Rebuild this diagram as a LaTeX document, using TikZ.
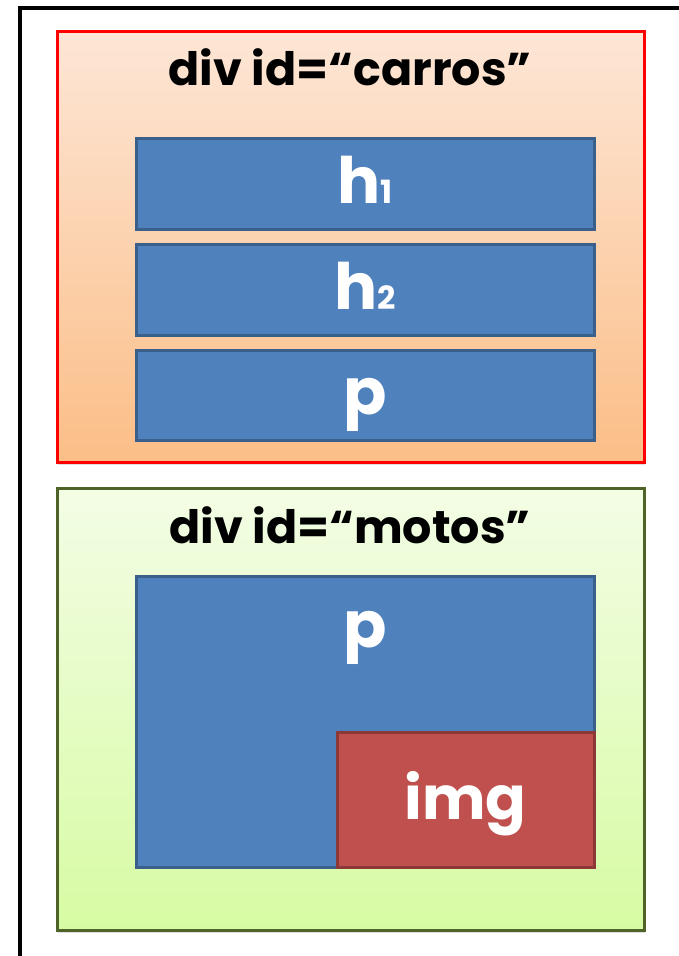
\documentclass[tikz,border=0pt]{standalone}
\usepackage{fontspec}
\newfontfamily\tagfont{Poppins}
\usetikzlibrary{shadows,positioning}

\definecolor{tagblue}{HTML}{4F81BD}
\definecolor{tagblueline}{HTML}{3A5F8B}
\definecolor{imgred}{HTML}{C0504D}
\definecolor{imgredline}{HTML}{8C3836}
\definecolor{carrostop}{HTML}{FDE6D6}
\definecolor{carrosbottom}{HTML}{FBBE87}
\definecolor{motostop}{HTML}{F3FDE5}
\definecolor{motosbottom}{HTML}{D7FBA3}
\definecolor{motosline}{HTML}{4F6228}

\tikzset{
	divbox/.style={line width=3pt, inner sep=0pt, minimum width=587pt,
		drop shadow={opacity=0.25, shadow xshift=1pt, shadow yshift=-2.5pt}},
	divtitle/.style={anchor=base, inner sep=0pt, font=\tagfont\bfseries\fontsize{46}{46}\selectfont},
	tagbox/.style={draw=tagblueline, fill=tagblue, line width=3pt, inner sep=0pt,
		minimum width=458pt, text=white, text height=52pt, text depth=14pt,
		font=\tagfont\bfseries\fontsize{64}{64}\selectfont},
	tagtext/.style={inner sep=0pt, text=white, font=\tagfont\bfseries\fontsize{64}{64}\selectfont},
}
\newcommand{\tagnum}[1]{{\fontsize{32}{32}\selectfont #1}}

\begin{document}
\begin{tikzpicture}[x=1pt, y=-1pt]
	\useasboundingbox (0,0) rectangle (679,956);
	% page frame, cut off at right and bottom
	\draw[line width=4pt] (19.5,956) -- (19.5,7.5) -- (679,7.5);

	% div carros
	\node[divbox, draw=red, top color=carrostop, bottom color=carrosbottom, minimum height=431pt] (carros) at (350.5,247) {};
	\node[divtitle] (carrostitle) at (350,85) {div id=“carros”};
	\node[tagbox, minimum height=91pt] (h1) at (365,184) {h\tagnum{1}};
	\node[tagbox, minimum height=91pt, below=12pt of h1] (h2) {h\tagnum{2}};
	\node[tagbox, minimum height=90pt, below=12pt of h2] (pc) {p};

	% div motos
	\node[divbox, draw=motosline, top color=motostop, bottom color=motosbottom, minimum height=442pt] (motos) at (350.5,709.5) {};
	\node[divtitle] (motostitle) at (350,543) {div id=“motos”};
	\node[tagbox, minimum height=291pt] (pm) at (365,722) {};
	\node[tagtext, anchor=base] (pmtext) at (365,647) {p};
	\node[tagbox, draw=imgredline, fill=imgred, minimum width=257pt, minimum height=135pt,
		anchor=south east, font=\tagfont\bfseries\fontsize{60}{60}\selectfont] (img) at (pm.south east) {img};
\end{tikzpicture}
\end{document}
